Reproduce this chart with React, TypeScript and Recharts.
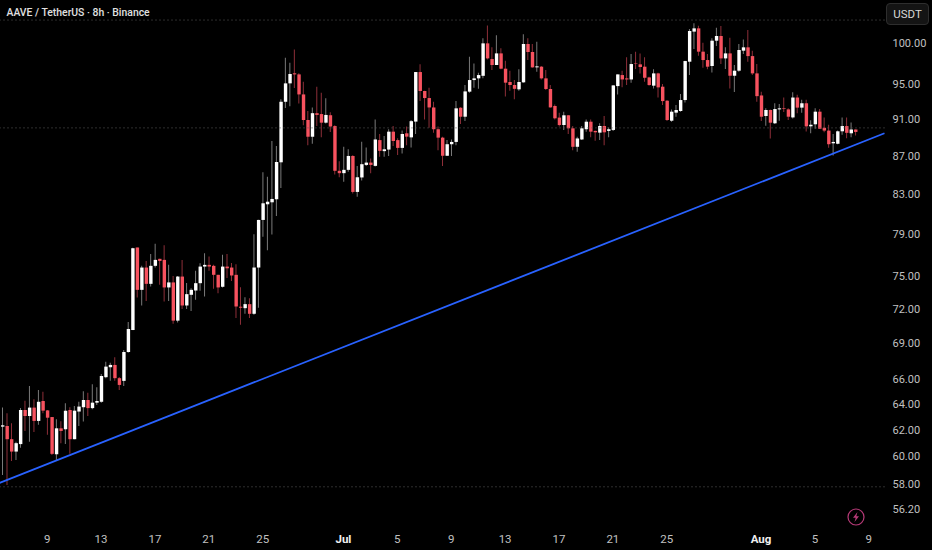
import React from "react";
import { ComposedChart, Bar, Cell, XAxis, YAxis, ReferenceLine } from "recharts";

const opens = [
  62.26,62.31,61.3,60.37,60.93,63.55,63.08,63.74,62.7,64.26,
  63.52,63,60.17,62.13,62.05,63.55,61.3,63.43,63.77,64.34,
  63.7,64.13,64.2,66.18,67,67.19,66.1,65.88,68.27,70.15,
  77.68,73.72,75.78,74.27,75.94,76.6,76.5,73.94,74.4,70.97,
  74.94,72.31,73.27,73.66,74.33,75.87,76.03,75.94,75.1,74,
  75.87,75.78,75.1,72.2,72.07,72.43,71.57,75.78,80.37,81.94,
  82.14,82.45,86.3,93,95.14,96.33,96.2,93.85,90.93,89.07,
  91.7,91.6,90.63,91.47,90.25,85.4,85.15,85.5,86.98,83.2,
  84.7,86.02,86.27,85.92,88.7,87.5,87.67,89.63,88.7,87.85,
  89.45,89,90.75,96.48,94.25,93.43,92.35,89.9,88.97,87,
  88.25,88.5,92.32,91.3,94.17,95.53,95.73,96.03,99.96,98.04,
  97.32,98.73,96.88,95.3,94.95,94.44,95.26,99.88,98.9,97.04,
  97.12,95.73,94.48,92.52,91.2,90.37,91.46,90,87.97,88.77,
  89.9,90.74,89.71,89.52,90.26,89.71,89.82,94.82,96.12,95.73,
  95.6,97.5,97.4,97.12,95.84,94.87,96.32,94.75,93.12,90.85,
  91.76,91.95,93.2,97.72,101.42,101.83,98.94,97.92,97.2,100.29,
  100.87,98.12,98.73,96.04,96.64,99.06,99.47,98.4,96.32,93.73,
  91.38,92.06,90.56,92.13,92.25,92.13,91.22,93.49,92.33,92.83,
  90.22,90.45,91.87,90.06,89.75,88.35,88.3,89.67,90.25,89.45,
  89.87,
];
const closes = [
  62.36,61.3,60.37,61,63.55,63.08,63.74,62.7,64.2,63.5,
  62.95,60.2,62.13,61.93,63.5,61.3,63.5,63.82,64.34,63.7,
  64.13,64.26,66.28,67.05,67.19,66.1,65.55,68.27,70.25,77.61,
  73.72,75.78,74.27,75.94,76.5,76.4,73.94,74.4,70.97,74.94,
  72.31,73.33,73.72,74.33,75.87,76.03,75.87,75.1,73.94,75.87,
  75.71,75.04,72.22,72.11,72.43,71.57,75.78,80.37,82.04,82.2,
  82.48,86.33,93,95.14,96.25,96.2,93.85,90.93,89.07,91.7,
  91.5,90.63,91.5,90.2,85.4,85.15,85.5,86.98,83.2,84.72,
  86.1,86.27,86.02,88.77,87.53,87.7,89.63,88.6,87.85,89.37,
  89.08,90.8,96.48,94.25,93.43,92.35,89.9,88.97,87,88.25,
  88.5,92.25,91.3,94.2,95.53,95.73,96.12,99.96,98.12,97.32,
  98.73,96.88,95.22,94.95,94.5,95.3,99.88,98.9,97.04,97.16,
  95.73,94.48,92.36,91.12,90.37,91.46,90,87.97,88.88,90,
  90.74,89.63,89.56,90.26,89.56,89.9,94.9,96.2,95.6,95.6,
  97.44,97.44,97.08,95.8,94.95,96.32,94.67,93.08,90.93,91.87,
  92.06,93.2,97.8,101.5,101.83,98.94,97.92,97.12,100.29,100.87,
  98.12,98.73,96.04,96.64,99.14,99.47,98.4,96.32,93.65,91.3,
  92.06,90.63,92.17,92.25,92.17,91.3,93.49,92.33,92.83,90.22,
  90.4,91.87,89.95,89.75,88.25,88.5,89.67,90.25,89.5,89.87,
  89.6,
];
const highs = [
  63.74,63.29,62.52,61.11,63.7,64.29,65.47,64.4,65.15,65.01,
  63.55,63,62.83,62.67,64.08,63.77,63.87,64.2,65.04,64.93,
  65.6,65.36,66.45,67.46,67.38,67.83,66.2,68.45,70.85,77.65,
  77.68,75.94,76.4,77.07,78.03,76.6,77.9,76.03,75,75,
  76.5,74.34,73.87,75.47,76.19,77.14,76.83,76.03,75.1,76.98,
  77.07,76.2,76.1,73.96,73.06,72.97,78.97,80.4,85.25,84.78,
  88.6,88.05,93.3,98.2,97.6,99.2,96.33,95.33,91.94,92.35,
  94.75,94.05,93.4,91.8,90.34,86.4,87.98,87.7,87.05,85.9,
  88.52,87.9,86.72,91,89.37,89.15,89.9,90.27,88.9,89.75,
  90.2,90.93,96.5,97.4,94.28,94.63,93,90.2,89.08,88.7,
  88.77,93.1,92.36,94.95,98.33,97.5,96.4,100.58,102.2,99.47,
  100.98,99.35,97.84,96.64,95.53,96.8,101.1,100.58,99.88,100.16,
  97.2,96.72,94.95,92.7,91.76,91.87,91.5,90.26,89.07,90.26,
  91,91,89.75,90.56,91.38,90.08,94.95,96.2,96.64,98.25,
  98.65,98.94,98.73,98.25,95.92,96.8,96.4,95.07,93.2,92.13,
  92.62,93.9,97.84,101.74,102.46,102.17,100.04,98.65,100.58,101.9,
  102.13,99.47,100.66,97.32,99.88,100.45,101.62,99.06,97.44,94.17,
  92.25,92.13,92.82,92.74,93.5,92.25,94.1,93.8,93.22,93.22,
  90.9,92.25,92.18,91.2,90.4,89.37,89.75,91.2,91.2,90.64,
  89.87,
];
const lows = [
  58.65,57.93,59.68,59.75,60.65,61.93,61.1,61.85,62.4,63.29,
  61.63,60.12,59.75,61,60.93,60.2,61.3,62.31,62.65,63.08,
  63.62,63.95,64.13,66.1,65.9,65.9,65.15,65.47,68.2,70.15,
  73.03,72.31,72.72,74.03,75.78,74.18,72.66,72.72,70.7,70.8,
  72,72,71.82,72.82,73.63,73.12,75.47,73.81,73.42,73.94,
  74.8,74.54,71.2,70.61,71.57,71.2,71.48,72.11,78.73,77.41,
  78.94,80.77,83.6,92.3,92.5,94.6,92.8,90.35,88.15,88.3,
  90.25,89,90.55,89.6,85,84.72,84.25,85.3,83.05,82.7,
  84.37,85.92,85.15,85.85,86.9,86.9,86.97,88.05,87.07,87.25,
  88.15,87.9,89.37,93.1,91,90.07,89.5,87.6,85.92,87,
  86.97,88.15,90.48,90.82,94.05,94.63,94.5,95.73,98,96.72,
  97.32,96.8,93.6,94.28,93.3,94.28,95.22,97.92,97,96.52,
  95.6,94.36,92.32,91,90.2,89.82,89.37,87.6,87.42,88.7,
  89.63,89,88.63,88.7,88.15,89,89.71,93.85,94.67,94.95,
  95.22,96.84,96.3,95.33,94.87,94.55,93.5,92.62,90.82,90.74,
  91.3,91.87,92.93,96.12,99.26,98.45,97,96.8,96.44,99.63,
  97.44,96.84,94.55,94.13,96.52,98.65,97.72,96.12,93,90.82,
  90.3,88.88,90.48,90.85,91.84,90.93,91.1,91.68,91.75,89.65,
  89.45,89.95,89.95,89.56,87.87,87.02,88.25,89.3,88.9,89,
  89.2,
];

const blankSlots = 6;
const priceTicks = [56.2, 58, 60, 62, 64, 66, 69, 72, 75, 79, 83, 87, 91, 95, 100];
const timeTicks = [10, 22, 34, 46, 58, 76, 88, 100, 112, 124, 136, 148, 169, 181, 193];
const timeLabels = ["9", "13", "17", "21", "25", "Jul", "5", "9", "13", "17", "21", "25", "Aug", "5", "9"];
const monthLabels = ["Jul", "Aug"];
const priceDomain = [55.34, 105.46];
const dottedLevels = [102.88, 90.05, 57.8];
const trendStart = { slot: -0.5, price: 58.03 };
const trendEnd = { slot: 196, price: 89.45 };

const RED = "#f7525f";
const WHITE = "#ffffff";
const WICK_RED = "#8e2f39";
const WICK_WHITE = "#7a7a7a";
const FONT = "Roboto, 'Liberation Sans', Arial, sans-serif";

const table = Array.from({ length: opens.length + blankSlots }, (_, i) =>
  i < opens.length
    ? {
        idx: i,
        up: closes[i] >= opens[i],
        wick: [lows[i], highs[i]],
        body: [Math.min(opens[i], closes[i]), Math.max(opens[i], closes[i])],
      }
    : { idx: i, up: true, wick: null, body: null }
);

function TimeTick(props: any) {
  const { x, y, payload } = props;
  const label = timeLabels[timeTicks.indexOf(payload.value)];
  const isMonth = monthLabels.includes(label);
  return (
    <text
      x={x}
      y={y}
      dy={4}
      textAnchor="middle"
      fill={isMonth ? "#f0f0f0" : "#c0c0c0"}
      fontFamily={FONT}
      fontSize={11.5}
      fontWeight={isMonth ? 700 : 400}
    >
      {label}
    </text>
  );
}

export default function App() {
  return (
    <div style={{ position: "fixed", left: 0, top: 0, width: 932, height: 550, background: "#000", overflow: "hidden" }}>
      <ComposedChart width={932} height={550} data={table} margin={{ top: 0, right: 0, bottom: 0, left: 0 }}>
        <XAxis
          xAxisId="main"
          dataKey="idx"
          height={28}
          ticks={timeTicks}
          interval={0}
          axisLine={false}
          tickLine={false}
          tickSize={0}
          tickMargin={17}
          tick={<TimeTick />}
        />
        <XAxis xAxisId="wicks" dataKey="idx" hide />
        <XAxis xAxisId="trend" type="number" domain={[-0.5, 196.5]} allowDataOverflow hide />
        <YAxis
          orientation="right"
          width={47.5}
          scale="log"
          domain={priceDomain}
          allowDataOverflow
          ticks={priceTicks}
          interval={0}
          tickFormatter={(v: number) => v.toFixed(2)}
          axisLine={false}
          tickLine={false}
          tickSize={0}
          tickMargin={8}
          tick={{ fill: "#c0c0c0", fontSize: 11, fontFamily: FONT }}
        />
        {dottedLevels.map((level) => (
          <ReferenceLine key={level} xAxisId="main" y={level} stroke="#5a5a5a" strokeDasharray="1 3" />
        ))}
        <ReferenceLine
          xAxisId="trend"
          segment={[
            { x: trendStart.slot, y: trendStart.price },
            { x: trendEnd.slot, y: trendEnd.price },
          ]}
          stroke="#2962ff"
          strokeWidth={1.8}
          ifOverflow="visible"
        />
        <Bar xAxisId="wicks" dataKey="wick" barSize={1} isAnimationActive={false}>
          {table.map((d) => (
            <Cell key={d.idx} fill={d.up ? WICK_WHITE : WICK_RED} />
          ))}
        </Bar>
        <Bar xAxisId="main" dataKey="body" barSize={3.4} isAnimationActive={false}>
          {table.map((d) => (
            <Cell key={d.idx} fill={d.up ? WHITE : RED} />
          ))}
        </Bar>
      </ComposedChart>
      <div
        style={{
          position: "absolute",
          left: 6.5,
          top: 5,
          color: "#e0e0e0",
          fontFamily: FONT,
          fontSize: 10.4,
          fontWeight: 500,
          whiteSpace: "nowrap",
          lineHeight: "16px",
        }}
      >
        AAVE / TetherUS · 8h · Binance
      </div>
      <div
        style={{
          position: "absolute",
          left: 886,
          top: 3,
          width: 41,
          height: 20,
          border: "1px solid #2e2e2e",
          borderRadius: 4,
          background: "#141414",
          color: "#d8d8d8",
          fontFamily: FONT,
          fontSize: 11.5,
          lineHeight: "20px",
          textAlign: "center",
        }}
      >
        USDT
      </div>
      <svg style={{ position: "absolute", left: 846, top: 507 }} width={20} height={20} viewBox="0 0 20 20">
        <circle cx={10} cy={10} r={8} fill="none" stroke="#b83a78" strokeWidth={1.2} />
        <path d="M11.5 5 L7 10.8 L9.7 10.8 L8.5 15 L13 9.2 L10.3 9.2 Z" fill="#b83a78" />
      </svg>
    </div>
  );
}
